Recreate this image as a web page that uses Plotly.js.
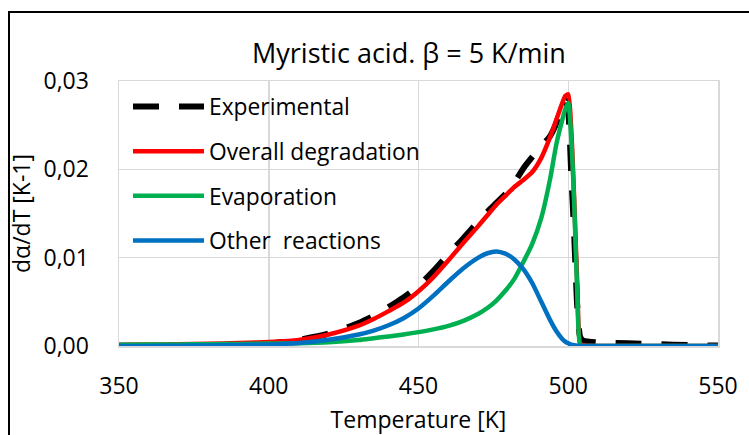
<!DOCTYPE html>
<html>
<head>
<meta charset="utf-8">
<script src="https://cdn.plot.ly/plotly-3.0.1.min.js"></script>
<style>
  html, body { margin: 0; padding: 0; background: #fff; }
  #wrap { position: relative; width: 749px; height: 435px; overflow: hidden; }
  #chart { width: 749px; height: 435px; }
  #frame { position: absolute; left: 8px; top: 11px; width: 800px; height: 500px;
           border: 2px solid #000; pointer-events: none; }
</style>
</head>
<body>
<div id="wrap">
  <div id="chart"></div>
  <div id="frame"></div>
</div>
<script>
// Temperature [K]
const temperature = [350, 360, 370, 380, 390, 400, 410, 420, 430, 435, 440, 445, 450, 455, 460, 465, 470, 473, 476, 479, 482, 485, 488, 491, 494, 496, 498, 499, 500, 501, 502, 503, 504, 505, 510, 520, 530, 540, 550];

// dα/dT [K-1]
const experimental = [0.00000, 0.00000, 0.00002, 0.00005, 0.00010, 0.00030, 0.00070, 0.00140, 0.00260, 0.00340, 0.00440, 0.00550, 0.00680, 0.00850, 0.01040, 0.01220, 0.01410, 0.01520, 0.01620, 0.01720, 0.01850, 0.02010, 0.02140, 0.02260, 0.02380, 0.02520, 0.02720, 0.02790, 0.02650, 0.01950, 0.01250, 0.00450, 0.00100, 0.00060, 0.00040, 0.00030, 0.00020, 0.00010, 0.00005];
const overall = [0.00015, 0.00016, 0.00019, 0.00025, 0.00033, 0.00045, 0.00068, 0.00130, 0.00230, 0.00305, 0.00395, 0.00490, 0.00620, 0.00780, 0.00970, 0.01170, 0.01360, 0.01480, 0.01600, 0.01700, 0.01800, 0.01880, 0.01970, 0.02130, 0.02370, 0.02560, 0.02750, 0.02830, 0.02850, 0.02450, 0.01650, 0.00700, 0.00030, 0.00010, 0.00000, 0.00000, 0.00000, 0.00000, 0.00000];
const evaporation = [0.00015, 0.00016, 0.00018, 0.00020, 0.00023, 0.00027, 0.00032, 0.00043, 0.00068, 0.00088, 0.00108, 0.00130, 0.00157, 0.00188, 0.00228, 0.00285, 0.00365, 0.00430, 0.00515, 0.00625, 0.00760, 0.00950, 0.01160, 0.01450, 0.01900, 0.02280, 0.02560, 0.02680, 0.02750, 0.02350, 0.01600, 0.00600, 0.00000, 0.00000, 0.00000, 0.00000, 0.00000, 0.00000, 0.00000];
const otherReactions = [0.00000, 0.00001, 0.00003, 0.00006, 0.00010, 0.00018, 0.00035, 0.00070, 0.00130, 0.00175, 0.00235, 0.00315, 0.00425, 0.00570, 0.00730, 0.00880, 0.01000, 0.01050, 0.01070, 0.01045, 0.00980, 0.00870, 0.00710, 0.00500, 0.00290, 0.00170, 0.00080, 0.00050, 0.00030, 0.00015, 0.00008, 0.00004, 0.00002, 0.00000, 0.00000, 0.00000, 0.00000, 0.00000, 0.00000];

const seriesNames = ["Experimental", "Overall degradation", "Evaporation", "Other  reactions"];
const xTicks = [350, 400, 450, 500, 550];
const yTicks = [0.00, 0.01, 0.02, 0.03];

const FONT = "'Open Sans', 'Noto Sans', sans-serif";

const traces = [
  { x: temperature, y: experimental, name: seriesNames[0], legendgroup: "a", mode: "lines",
    line: { color: "#000000", width: 6, dash: "26px,20px", shape: "spline", smoothing: 0.6 } },
  { x: temperature, y: overall, name: seriesNames[1], legendgroup: "b", mode: "lines",
    line: { color: "#FF0000", width: 4.5, shape: "spline", smoothing: 0.6 } },
  { x: temperature, y: evaporation, name: seriesNames[2], legendgroup: "c", mode: "lines",
    line: { color: "#00B050", width: 4.5, shape: "spline", smoothing: 0.6 } },
  { x: temperature, y: otherReactions, name: seriesNames[3], legendgroup: "d", mode: "lines",
    line: { color: "#0070C0", width: 4.5, shape: "spline", smoothing: 0.6 } }
];

const layout = {
  width: 749, height: 435,
  margin: { l: 118.5, r: 30.5, t: 81, b: 88.5, pad: 0 },
  paper_bgcolor: "#ffffff", plot_bgcolor: "#ffffff",
  separators: ", ",
  font: { family: FONT, size: 22.8, color: "#000000" },
  title: {
    text: "Myristic acid. β = 5 K/min",
    font: { family: FONT, size: 27, color: "#000000" },
    x: 0.546, xref: "container", xanchor: "center",
    y: 0.878, yref: "container", yanchor: "middle"
  },
  xaxis: {
    range: [350, 550], tickvals: xTicks, ticktext: xTicks.map(String),
    showgrid: true, gridcolor: "#d9d9d9", gridwidth: 1.5,
    showline: true, linecolor: "#d9d9d9", linewidth: 1.5, mirror: true,
    zeroline: false, ticks: "", ticklabelstandoff: 19,
    tickfont: { family: FONT, size: 23, color: "#000000" },
    title: { text: "Temperature [K]", font: { family: FONT, size: 23, color: "#000000" }, standoff: 16 },
    automargin: false
  },
  yaxis: {
    range: [0, 0.03], tickvals: yTicks, tickformat: ".2f",
    showgrid: true, gridcolor: "#d9d9d9", gridwidth: 1.5,
    showline: true, linecolor: "#d9d9d9", linewidth: 1.5, mirror: true,
    zeroline: false, ticks: "", ticklabelstandoff: 24,
    tickfont: { family: FONT, size: 23, color: "#000000" },
    title: { text: "dα/dT [K-1]", font: { family: FONT, size: 23, color: "#000000" }, standoff: 6 },
    automargin: false
  },
  showlegend: true,
  legend: {
    x: 0.015, xanchor: "left", y: 0.984, yanchor: "top",
    bgcolor: "rgba(0,0,0,0)", borderwidth: 0,
    traceorder: "grouped", tracegroupgap: 12,
    itemwidth: 71,
    font: { family: FONT, size: 22.8, color: "#000000" }
  }
};

Plotly.newPlot("chart", traces, layout, { displayModeBar: false, staticPlot: true });
</script>
</body>
</html>
